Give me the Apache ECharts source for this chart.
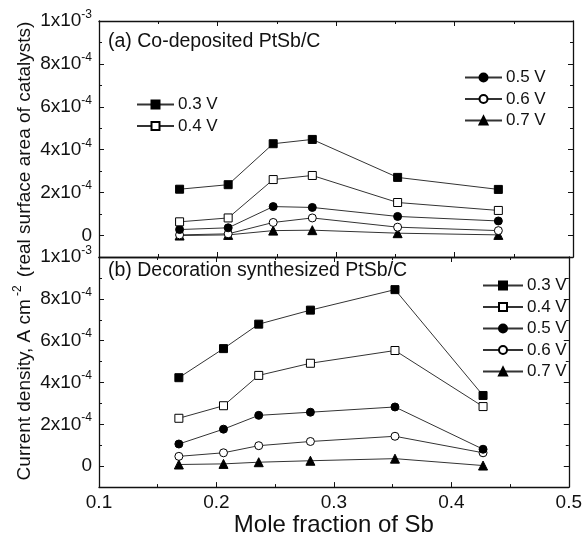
<!DOCTYPE html>
<html><head><meta charset="utf-8">
<script src="https://cdn.jsdelivr.net/npm/echarts@6/dist/echarts.min.js"></script>
<style>html,body{margin:0;padding:0;background:#fff}#c{width:585px;height:538px}</style>
</head><body><div id="c"></div>
<script>
// ---- data ----
var xTop = [0.168, 0.209, 0.247, 0.280, 0.352, 0.437];
var xBot = [0.168, 0.206, 0.236, 0.280, 0.352, 0.427];
var seriesNames = ['0.3 V', '0.4 V', '0.5 V', '0.6 V', '0.7 V'];
var topV03 = [2.16e-4, 2.37e-4, 4.28e-4, 4.48e-4, 2.71e-4, 2.15e-4];
var topV04 = [0.64e-4, 0.82e-4, 2.61e-4, 2.80e-4, 1.54e-4, 1.17e-4];
var topV05 = [0.28e-4, 0.36e-4, 1.35e-4, 1.31e-4, 0.89e-4, 0.68e-4];
var topV06 = [0.03e-4, 0.08e-4, 0.61e-4, 0.82e-4, 0.39e-4, 0.23e-4];
var topV07 = [0.00e-4, 0.03e-4, 0.23e-4, 0.25e-4, 0.11e-4, 0.03e-4];
var botV03 = [4.23e-4, 5.62e-4, 6.79e-4, 7.46e-4, 8.44e-4, 3.38e-4];
var botV04 = [2.29e-4, 2.89e-4, 4.34e-4, 4.92e-4, 5.53e-4, 2.85e-4];
var botV05 = [1.06e-4, 1.77e-4, 2.43e-4, 2.58e-4, 2.83e-4, 0.81e-4];
var botV06 = [0.47e-4, 0.64e-4, 0.98e-4, 1.18e-4, 1.43e-4, 0.64e-4];
var botV07 = [0.08e-4, 0.11e-4, 0.19e-4, 0.26e-4, 0.36e-4, 0.03e-4];
var yMajor = [0, 2e-4, 4e-4, 6e-4, 8e-4, 1e-3];
var yLabels = ['0', '2x10{s|-4}', '4x10{s|-4}', '6x10{s|-4}', '8x10{s|-4}', '1x10{s|-3}'];
var xTickLabels = ['0.1', '0.2', '0.3', '0.4', '0.5'];

// ---- chart ----
var FONT = 'Liberation Sans, Arial, sans-serif';
var INK = '#111';
var chart = echarts.init(document.getElementById('c'));
var grids = [
  {left: 99, right: 12, top: 21, height: 236},
  {left: 99, right: 12, top: 257, height: 236}
];
var xAxes = [], yAxes = [];
[0, 1].forEach(function (g) {
  ['bottom', 'top'].forEach(function (pos) {
    var showLab = (g === 1 && pos === 'bottom');
    xAxes.push({
      type: 'value', gridIndex: g, position: pos, min: 0.1, max: 0.5, interval: 0.1,
      axisLine: {show: true, onZero: false, lineStyle: {color: INK, width: 1.3}},
      axisTick: {show: true, inside: true, length: 5, lineStyle: {color: INK}},
      minorTick: {show: true, splitNumber: 2, length: 3, lineStyle: {color: INK}},
      splitLine: {show: false},
      axisLabel: {show: showLab, color: INK, fontFamily: FONT, fontSize: 19, margin: 6,
        formatter: function (v) { return xTickLabels[Math.round((v - 0.1) * 10)] || ''; }},
      name: showLab ? 'Mole fraction of Sb' : '',
      nameLocation: 'middle', nameGap: 23,
      nameTextStyle: {color: INK, fontFamily: FONT, fontSize: 24, verticalAlign: 'top'}
    });
  });
  ['left', 'right'].forEach(function (pos) {
    yAxes.push({
      type: 'value', gridIndex: g, position: pos, min: -1e-4, max: 1e-3, interval: 1e-4,
      axisLine: {show: true, onZero: false, lineStyle: {color: INK, width: 1.3}},
      axisTick: {show: true, inside: true, length: 5, customValues: yMajor, lineStyle: {color: INK}},
      splitLine: {show: false},
      axisLabel: {show: pos === 'left', customValues: yMajor, color: INK, fontFamily: FONT, fontSize: 19, margin: 7,
        formatter: function (v) {
          var i = Math.round(v / 2e-4);
          return yLabels[i] || '';
        },
        rich: {s: {fontSize: 12, fontFamily: FONT, color: INK, padding: [0, 0, 13, 0]}}}
    });
    yAxes.push({
      type: 'value', gridIndex: g, position: pos, min: -1e-4, max: 1e-3, interval: 1e-4,
      axisLine: {show: false},
      axisTick: {show: true, inside: true, length: 3, lineStyle: {color: INK}},
      splitLine: {show: false}, axisLabel: {show: false}
    });
  });
});

var symbols = ['rect', 'rect', 'circle', 'circle', 'triangle'];
var filled = [true, false, true, false, true];
var sizes = [8, 8, 8, 8, 9];
var topData = [topV03, topV04, topV05, topV06, topV07];
var botData = [botV03, botV04, botV05, botV06, botV07];
var series = [];
function mk(g, xs, vals, i) {
  return {
    type: 'line', name: seriesNames[i], xAxisIndex: g * 2, yAxisIndex: g * 4,
    data: xs.map(function (x, k) { return [x, vals[k]]; }),
    symbol: symbols[i], symbolSize: sizes[i], showAllSymbol: true,
    lineStyle: {color: '#333', width: 1},
    itemStyle: {color: filled[i] ? '#000' : '#fff', borderColor: '#000', borderWidth: 1},
    emphasis: {disabled: true}, animation: false, z: 3 + (4 - i)
  };
}
for (var i = 0; i < 5; i++) series.push(mk(0, xTop, topData[i], i));
for (var i = 0; i < 5; i++) series.push(mk(1, xBot, botData[i], i));

var legendBase = {
  orient: 'vertical', itemWidth: 37, itemHeight: 10, itemGap: 4.5, selectedMode: false,
  textStyle: {color: INK, fontFamily: FONT, fontSize: 17, padding: [0, 0, 0, -1]}
};
chart.setOption({
  animation: false,
  grid: grids,
  xAxis: xAxes,
  yAxis: yAxes,
  title: [
    {text: '(a) Co-deposited PtSb/C', left: 103, top: 27,
     textStyle: {color: INK, fontFamily: FONT, fontSize: 19.5, fontWeight: 'normal'}},
    {text: '(b) Decoration synthesized PtSb/C', left: 103, top: 256,
     textStyle: {color: INK, fontFamily: FONT, fontSize: 19.5, fontWeight: 'normal'}}
  ],
  legend: [
    Object.assign({}, legendBase, {data: ['0.3 V', '0.4 V'], left: 131, top: 91}),
    Object.assign({}, legendBase, {data: ['0.5 V', '0.6 V', '0.7 V'], left: 459, top: 64}),
    Object.assign({}, legendBase, {data: ['0.3 V', '0.4 V', '0.5 V', '0.6 V', '0.7 V'], left: 477, top: 272, itemWidth: 40})
  ],
  graphic: [{
    type: 'text', x: 25, y: 251, rotation: Math.PI / 2,
    style: {
      text: 'Current density, A cm{s|-2} (real surface area of catalysts)',
      fill: INK, font: '19px ' + FONT, align: 'center', verticalAlign: 'middle',
      rich: {s: {fontSize: 12, fontFamily: FONT, fill: INK, padding: [0, 3, 14, 3]}}
    }
  }],
  series: series
});
</script></body></html>
